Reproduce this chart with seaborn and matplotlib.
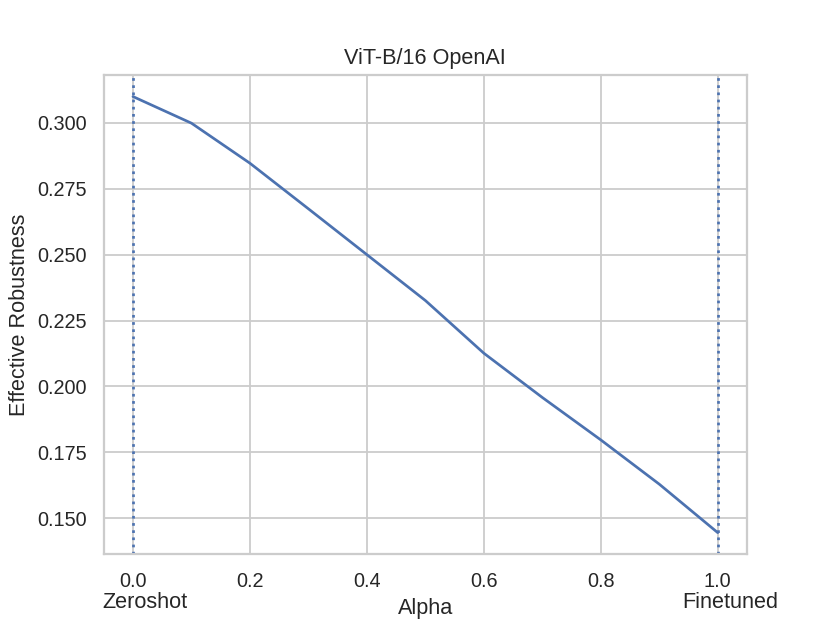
import matplotlib
matplotlib.use("Agg")
import matplotlib.pyplot as plt
import matplotlib.transforms as mtransforms
import seaborn as sns
import pandas as pd

alphas = [0.0, 0.1, 0.2, 0.3, 0.4, 0.5, 0.6, 0.7, 0.8, 0.9, 1.0]
eff_rob = [0.3100, 0.2999, 0.2847, 0.2674, 0.2500, 0.2326, 0.2126, 0.1958, 0.1797, 0.1629, 0.1445]
title = "ViT-B/16 OpenAI"
end_labels = ["Zeroshot", "Finetuned"]
end_positions = [0.0, 1.0]

sns.set_theme(style="whitegrid", context="notebook")
plt.rcParams['font.family'] = ['Liberation Sans', 'DejaVu Sans']

df = pd.DataFrame({"Alpha": alphas, "Effective Robustness": eff_rob})

fig, ax = plt.subplots(figsize=(830 / 130, 623 / 130), dpi=130)
sns.lineplot(data=df, x="Alpha", y="Effective Robustness", ax=ax, color="C0")
for xp in end_positions:
    ax.axvline(xp, color="C0", linestyle=":", linewidth=1.5)

ax.set_title(title)

trans = mtransforms.blended_transform_factory(ax.transData, ax.transAxes)
for xp, lab in zip(end_positions, end_labels):
    ax.text(xp + 0.021, -0.100, lab, transform=trans, ha="center", va="center", fontsize=12)

fig.savefig("out.png", dpi=130)
